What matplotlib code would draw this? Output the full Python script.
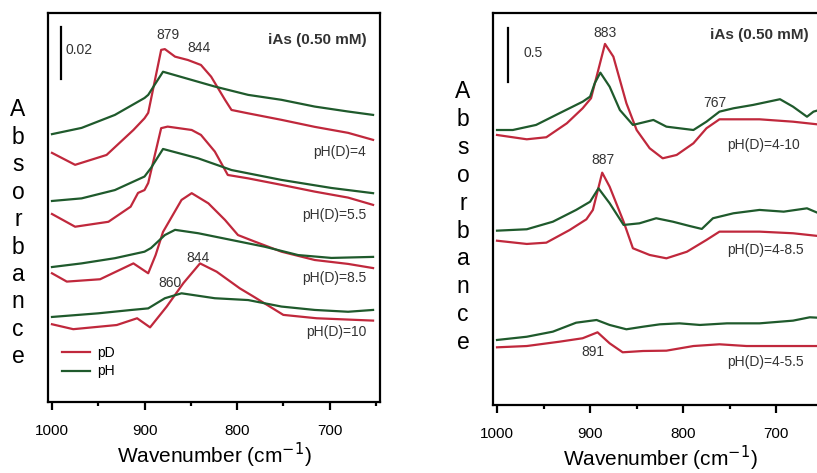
import numpy as np
import matplotlib
matplotlib.use("Agg")
import matplotlib.pyplot as plt
from matplotlib.lines import Line2D
from matplotlib.ticker import MultipleLocator

plt.rcParams['font.family'] = ['Liberation Sans', 'DejaVu Sans']

RED = '#c0283c'
GREEN = '#1f5a2c'

# ---- left panel: iAs, pD (red) vs pH (green) at four pH(D) values ----
w_ph4 = [1000, 968, 932, 900, 896, 880, 824, 788, 752, 716, 680, 653]
g_ph4 = [0.1030, 0.1054, 0.1104, 0.1169, 0.1181, 0.1270, 0.1213, 0.1181, 0.1162, 0.1136, 0.1117, 0.1104]
wd_ph4 = [1000, 975, 941, 912, 900, 896, 882, 878, 867, 853, 839, 828, 813, 806, 788, 752, 716, 680, 653]
r_ph4 = [0.0958, 0.0912, 0.0950, 0.1046, 0.1091, 0.1112, 0.1354, 0.1357, 0.1328, 0.1315, 0.1296, 0.1251,
         0.1162, 0.1123, 0.1110, 0.1085, 0.1058, 0.1035, 0.1008]

w_ph55 = [1000, 968, 932, 900, 893, 880, 842, 806, 752, 698, 653]
g_ph55 = [0.0773, 0.0783, 0.0815, 0.0867, 0.0900, 0.0973, 0.0937, 0.0892, 0.0854, 0.0823, 0.0803]
wd_ph55 = [1000, 975, 939, 915, 907, 900, 896, 882, 875, 849, 839, 824, 810, 788, 752, 716, 680, 653]
r_ph55 = [0.0723, 0.0674, 0.0693, 0.0751, 0.0804, 0.0815, 0.0842, 0.1053, 0.1059, 0.1046, 0.1027, 0.0963,
          0.0873, 0.0860, 0.0835, 0.0809, 0.0786, 0.0758]

w_ph85 = [1000, 968, 932, 900, 893, 878, 867, 842, 806, 770, 734, 698, 653]
g_ph85 = [0.0519, 0.0533, 0.0553, 0.0578, 0.0592, 0.0642, 0.0662, 0.0649, 0.0623, 0.0597, 0.0565, 0.0554, 0.0558]
wd_ph85 = [1000, 984, 948, 912, 896, 888, 880, 860, 849, 831, 813, 799, 781, 752, 716, 680, 653]
r_ph85 = [0.0495, 0.0463, 0.0472, 0.0533, 0.0495, 0.0565, 0.0654, 0.0777, 0.0803, 0.0764, 0.0700, 0.0642,
          0.0617, 0.0578, 0.0546, 0.0531, 0.0515]

w_ph10 = [1000, 950, 914, 896, 878, 860, 824, 788, 752, 716, 680, 653]
g_ph10 = [0.0327, 0.0341, 0.0354, 0.0360, 0.0399, 0.0418, 0.0399, 0.0392, 0.0367, 0.0354, 0.0347, 0.0354]
wd_ph10 = [1000, 977, 930, 908, 894, 876, 858, 840, 822, 797, 782, 750, 714, 653]
r_ph10 = [0.0299, 0.0280, 0.0296, 0.0322, 0.0287, 0.0367, 0.0457, 0.0533, 0.0501, 0.0437, 0.0405, 0.0335,
          0.0322, 0.0313]

# ---- right panel: difference spectra ----
w_410 = [1000, 983, 958, 933, 908, 900, 895, 889, 879, 868, 854, 832, 818, 804, 789, 775, 761, 746, 725,
         696, 682, 667, 660, 650]
g_410 = [2.546, 2.546, 2.593, 2.701, 2.808, 2.855, 2.979, 3.077, 2.947, 2.731, 2.593, 2.639, 2.577, 2.562,
         2.546, 2.623, 2.716, 2.747, 2.778, 2.831, 2.762, 2.669, 2.716, 2.741]
wd_410 = [1000, 968, 947, 925, 908, 899, 884, 875, 861, 850, 836, 822, 807, 789, 775, 761, 718, 682, 650]
r_410 = [2.500, 2.460, 2.479, 2.608, 2.747, 2.840, 3.343, 3.225, 2.794, 2.546, 2.377, 2.284, 2.315, 2.423,
         2.562, 2.645, 2.645, 2.623, 2.593]

w_485 = [1000, 968, 940, 915, 900, 891, 879, 864, 847, 829, 811, 793, 780, 768, 746, 718, 692, 667, 650]
g_485 = [1.614, 1.627, 1.697, 1.806, 1.882, 2.006, 1.868, 1.667, 1.682, 1.729, 1.697, 1.657, 1.630, 1.729,
         1.775, 1.806, 1.790, 1.821, 1.759]
wd_485 = [1000, 968, 947, 922, 904, 897, 887, 879, 864, 854, 836, 818, 796, 775, 761, 718, 682, 650]
r_485 = [1.521, 1.491, 1.503, 1.620, 1.719, 1.806, 2.151, 2.021, 1.697, 1.451, 1.389, 1.358, 1.419, 1.528,
         1.605, 1.605, 1.590, 1.560]

w_455 = [1000, 968, 940, 915, 893, 879, 861, 843, 825, 804, 782, 753, 718, 682, 664, 650]
g_455 = [0.602, 0.632, 0.679, 0.762, 0.787, 0.741, 0.701, 0.725, 0.747, 0.756, 0.741, 0.756, 0.756, 0.781,
         0.812, 0.806]
wd_455 = [1000, 968, 933, 908, 892, 879, 865, 843, 818, 789, 761, 732, 650]
r_455 = [0.534, 0.546, 0.586, 0.618, 0.673, 0.571, 0.488, 0.500, 0.503, 0.546, 0.562, 0.546, 0.546]

left_labels = ['pH(D)=4', 'pH(D)=5.5', 'pH(D)=8.5', 'pH(D)=10']
left_label_y = [0.0963, 0.0719, 0.0476, 0.0270]
right_labels = ['pH(D)=4-10', 'pH(D)=4-8.5', 'pH(D)=4-5.5']
right_label_y = [2.407, 1.435, 0.401]

fig = plt.figure(figsize=(8.17, 4.73), dpi=100)
axL = fig.add_axes([48/817, 71/473, 332/817, 389.3/473])
axR = fig.add_axes([493/817, 68/473, 334/817, 392.3/473])

lw = 1.6
for ax in (axL, axR):
    ax.set_xlim(1004.3, 645.5)
    ax.set_yticks([])
    for s in ax.spines.values():
        s.set_linewidth(1.6)
    ax.xaxis.set_major_locator(MultipleLocator(100))
    ax.xaxis.set_minor_locator(MultipleLocator(50))
    ax.tick_params(axis='x', which='major', direction='out', length=6, width=1.6, pad=10, labelsize=11)
    ax.tick_params(axis='x', which='minor', direction='out', length=3, width=1.6)
    ax.set_xlabel(r'Wavenumber (cm$^{-1}$)', fontsize=15, labelpad=2)

axL.set_ylim(0, 0.1497)
for w, g, wd, r in [(w_ph4, g_ph4, wd_ph4, r_ph4), (w_ph55, g_ph55, wd_ph55, r_ph55),
                    (w_ph85, g_ph85, wd_ph85, r_ph85), (w_ph10, g_ph10, wd_ph10, r_ph10)]:
    axL.plot(wd, r, color=RED, lw=lw)
    axL.plot(w, g, color=GREEN, lw=lw)
for lab, y in zip(left_labels, left_label_y):
    axL.text(660.5, y, lab, ha='right', va='center', fontsize=10, color='#333333')

axL.plot([990.6, 990.6], [0.1242, 0.1442], color='black', lw=1.6)
axL.text(985, 0.1354, '0.02', ha='left', va='center', fontsize=10, color='#333333')
axL.text(659.5, 0.1392, 'iAs (0.50 mM)', ha='right', va='center', fontsize=11, fontweight='bold', color='#333333')
axL.text(874.6, 0.1412, '879', ha='center', va='center', fontsize=10, color='#333333')
axL.text(841, 0.1362, '844', ha='center', va='center', fontsize=10, color='#333333')
axL.text(842, 0.0554, '844', ha='center', va='center', fontsize=10, color='#333333')
axL.text(872, 0.0458, '860', ha='center', va='center', fontsize=10, color='#333333')

handles = [Line2D([], [], color=RED, lw=lw), Line2D([], [], color=GREEN, lw=lw)]
axL.legend(handles, ['pD', 'pH'], loc='upper left', bbox_to_anchor=(0.042, 0.145), frameon=False,
           fontsize=10, handlelength=2.0, handletextpad=0.55, labelspacing=0.35,
           borderpad=0, borderaxespad=0)

axR.set_ylim(0, 3.632)
for w, g, wd, r in [(w_410, g_410, wd_410, r_410), (w_485, g_485, wd_485, r_485),
                    (w_455, g_455, wd_455, r_455)]:
    axR.plot(wd, r, color=RED, lw=lw)
    axR.plot(w, g, color=GREEN, lw=lw)
for lab, y in zip(right_labels, right_label_y):
    axR.text(753, y, lab, ha='left', va='center', fontsize=10, color='#333333')

axR.plot([988.5, 988.5], [2.991, 3.491], color='black', lw=1.6)
axR.text(972, 3.259, '0.5', ha='left', va='center', fontsize=10, color='#333333')
axR.text(665.6, 3.426, 'iAs (0.50 mM)', ha='right', va='center', fontsize=11, fontweight='bold', color='#333333')
axR.text(883.9, 3.444, '883', ha='center', va='center', fontsize=10, color='#333333')
axR.text(765.6, 2.796, '767', ha='center', va='center', fontsize=10, color='#333333')
axR.text(886, 2.269, '887', ha='center', va='center', fontsize=10, color='#333333')
axR.text(896.8, 0.494, '891', ha='center', va='center', fontsize=10, color='#333333')

# stacked vertical "Absorbance" labels
word = 'Absorbance'
for i, ch in enumerate(word):
    fig.text(18/817, 1 - (110 + i*27.4)/473, ch, ha='center', va='center', fontsize=16.5)
    fig.text(463/817, 1 - (92 + i*27.8)/473, ch, ha='center', va='center', fontsize=16.5)

fig.savefig('out.png', dpi=100)
